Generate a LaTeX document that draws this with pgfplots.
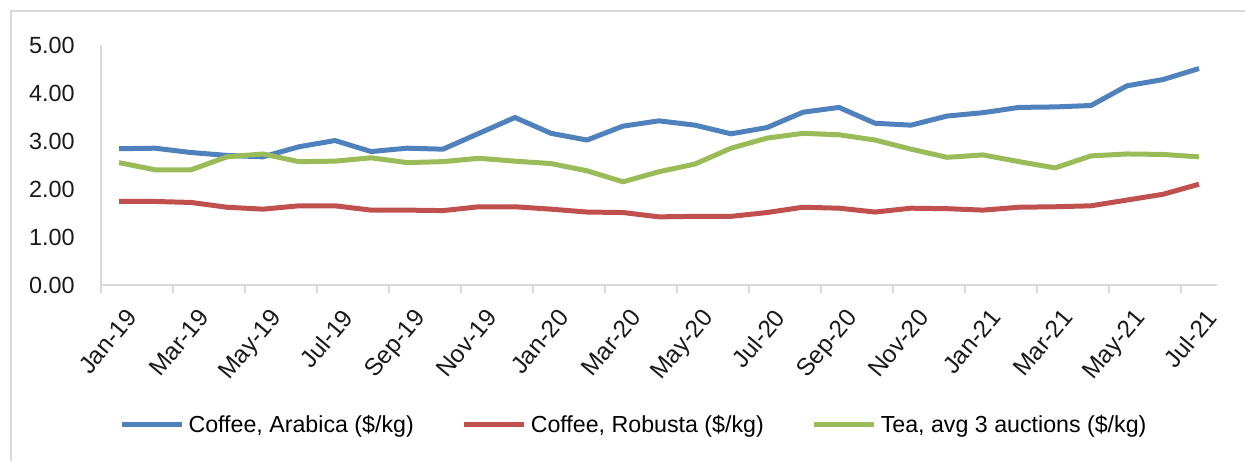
\documentclass[border=0pt]{standalone}
\usepackage{pgfplots}
\usepackage{pgfplotstable}
\pgfplotsset{compat=1.18}
\usepackage{fontspec}
\setmainfont{Liberation Sans}

\definecolor{arabica}{RGB}{79,129,189}
\definecolor{robusta}{RGB}{192,80,77}
\definecolor{tea}{RGB}{155,187,89}
\definecolor{axisgray}{RGB}{217,217,217}

% monthly prices, Jan-19 (0) to Jul-21 (30)
\pgfplotstableread{
idx arabica robusta tea
0  2.84 1.74 2.55
1  2.85 1.74 2.40
2  2.76 1.72 2.40
3  2.70 1.62 2.67
4  2.67 1.58 2.73
5  2.88 1.65 2.57
6  3.01 1.65 2.58
7  2.78 1.56 2.65
8  2.85 1.56 2.55
9  2.83 1.55 2.57
10 3.16 1.63 2.64
11 3.49 1.63 2.58
12 3.16 1.58 2.53
13 3.02 1.52 2.38
14 3.31 1.51 2.15
15 3.42 1.42 2.36
16 3.33 1.43 2.52
17 3.15 1.43 2.85
18 3.28 1.51 3.06
19 3.60 1.62 3.16
20 3.70 1.60 3.13
21 3.37 1.52 3.02
22 3.33 1.60 2.83
23 3.52 1.59 2.66
24 3.59 1.56 2.71
25 3.70 1.62 2.57
26 3.71 1.63 2.44
27 3.74 1.65 2.69
28 4.15 1.77 2.73
29 4.28 1.89 2.72
30 4.51 2.10 2.67
}\prices

\begin{document}
\begin{tikzpicture}[x=1pt,y=1pt]
\path[use as bounding box] (0,0) rectangle (622.5,230.5);
\draw[axisgray, line width=1pt] (5.5,0) -- (5.5,225) -- (622.5,225);
\begin{axis}[
  at={(50.5pt,88pt)}, anchor=south west,
  scale only axis, width=558pt, height=120pt,
  xmin=-0.5, xmax=30.5, ymin=0, ymax=5,
  axis x line*=bottom, axis y line*=left,
  axis line style={axisgray, line width=1pt},
  xtick={0,2,...,30},
  xticklabels={Jan-19,Mar-19,May-19,Jul-19,Sep-19,Nov-19,Jan-20,Mar-20,May-20,Jul-20,Sep-20,Nov-20,Jan-21,Mar-21,May-21,Jul-21},
  minor xtick={-0.5,1.5,...,29.5},
  ytick={0,1,...,5},
  major tick length=0pt, minor tick length=4pt, tick align=outside,
  minor tick style={axisgray, line width=1pt},
  /pgf/number format/assume math mode=true,
  yticklabel style={/pgf/number format/fixed, /pgf/number format/fixed zerofill, /pgf/number format/precision=2},
  every tick label/.append style={font=\fontsize{11.7}{14}\selectfont, text=black!90},
  yticklabel style={anchor=east, inner sep=0pt, xshift=-13pt},
  xticklabel style={xshift=3pt, yshift=-11pt, rotate=50, anchor=north east, inner sep=0pt,
    font=\fontsize{12.2}{14}\selectfont},
  legend style={at={(0.4785,-0.583)}, anchor=center, draw=none, fill=none,
    legend columns=3, font=\fontsize{11.6}{14}\selectfont,
    /tikz/every odd column/.append style={column sep=0pt},
    /tikz/every even column/.append style={column sep=22pt}},
  legend image code/.code={\draw[line width=2.5pt] (0pt,0pt) -- (30pt,0pt);},
  every axis plot/.append style={line width=2.5pt, line join=round, no marks},
]
\addplot[arabica] table[x=idx, y=arabica] {\prices};
\addlegendentry{Coffee, Arabica (\$/kg)}
\addplot[robusta] table[x=idx, y=robusta] {\prices};
\addlegendentry{Coffee, Robusta (\$/kg)}
\addplot[tea] table[x=idx, y=tea] {\prices};
\addlegendentry{Tea, avg 3 auctions (\$/kg)}
\end{axis}
\end{tikzpicture}
\end{document}
